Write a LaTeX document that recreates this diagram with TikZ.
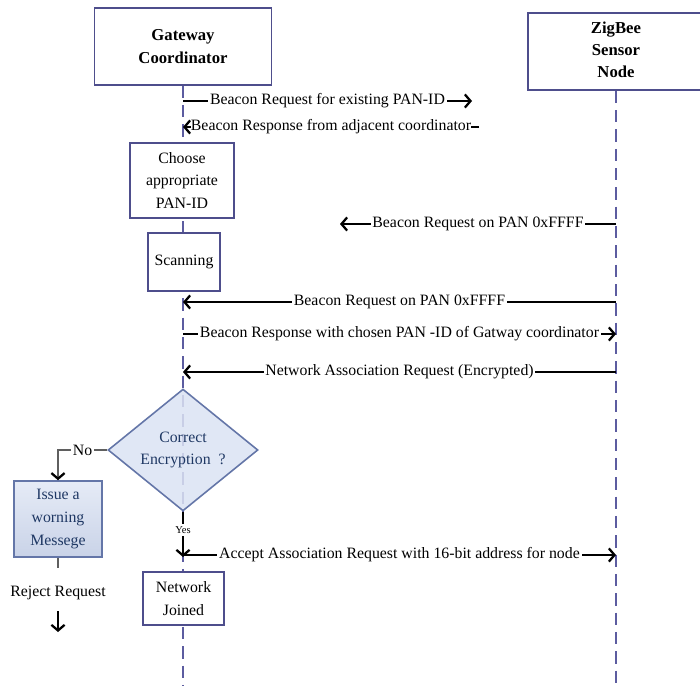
\documentclass[tikz,border=0pt]{standalone}
\usepackage{fontspec}
\setmainfont{Liberation Serif}
\usetikzlibrary{arrows.meta,shapes.geometric,backgrounds}
\definecolor{boxline}{RGB}{78,78,140}
\definecolor{lifeline}{RGB}{92,92,160}
\definecolor{diafill}{RGB}{219,227,243}
\definecolor{diaborder}{RGB}{100,118,168}
\definecolor{diatext}{RGB}{31,56,100}
\definecolor{flowgray}{RGB}{95,95,95}

\begin{document}
\begin{tikzpicture}[x=0.02cm,y=-0.02cm,
  font=\fontsize{9}{13}\selectfont,
  box/.style={draw=boxline,line width=0.9pt,fill=white,align=center,inner sep=1pt},
  life/.style={draw=lifeline,line width=0.8pt,dash pattern=on 7pt off 4pt},
  tip/.tip={Straight Barb[length=3.2pt,width=7.5pt,line width=1.3pt,color=black]},
  msg/.style={line width=0.6pt,-tip},
  lbl/.style={fill=white,inner xsep=1pt,inner ysep=1.5pt},
  flow/.style={draw=flowgray,line width=0.9pt}]
\useasboundingbox (0,0) rectangle (700,686);

% the two partners
\node[box,font=\fontsize{9.5}{13.5}\selectfont\bfseries,minimum width=3.54cm,minimum height=1.54cm] (gw) at (183,46.5) {Gateway\\Coordinator};
\node[box,font=\fontsize{9.5}{12.5}\selectfont\bfseries,minimum width=3.52cm,minimum height=1.54cm] (zb) at (616,51.5)
  {\raisebox{-0.14cm}{\begin{tabular}{@{}c@{}}ZigBee\\Sensor\\Node\end{tabular}}};
\coordinate (gwend) at (183,686);
\coordinate (zbend) at (616,686);
\begin{pgfonlayer}{background}
\draw[life] (gw.south) -- (gwend);
\draw[life] (zb.south) -- (zbend);
\end{pgfonlayer}

% steps of the gateway
\node[box,minimum width=2.08cm,minimum height=1.5cm] (choose) at (182,180.5) {Choose\\appropriate\\PAN-ID};
\node[box,minimum width=1.44cm,minimum height=1.16cm] (scan) at (184,262) {Scanning};
\node[diamond,draw=diaborder,line width=0.9pt,fill=diafill,fill opacity=0.85,text opacity=1,text=diatext,
  align=center,inner sep=0pt,minimum width=3cm,minimum height=2.3cm] (enc) at (183,450) {Correct\\Encryption\ \ ?};
\node[draw=diaborder,line width=0.9pt,top color=diafill!70!white,bottom color=diafill!85!diaborder,text=diatext,
  align=center,inner sep=1pt,minimum width=1.76cm,minimum height=1.52cm] (issue) at (58,519) {Issue a\\worning\\Messege};
\node[box,minimum width=1.62cm,minimum height=1.06cm] (joined) at (183.5,598.5) {Network\\Joined};

% messages
\coordinate (g1) at (183,101); \coordinate (e1) at (472,101);
\draw[msg] (g1) -- node[lbl]{Beacon Request for existing PAN-ID} (e1);
\coordinate (g2) at (183,127); \coordinate (e2) at (479,127);
\draw[msg] (e2) -- node[lbl,inner xsep=0pt]{Beacon Response from adjacent coordinator} (g2);
\coordinate (z3) at (616,224); \coordinate (e3) at (340,224);
\draw[msg] (z3) -- node[lbl]{Beacon Request on PAN 0xFFFF} (e3);
\coordinate (z4) at (616,302); \coordinate (g4) at (183,302);
\draw[msg] (z4) -- node[lbl]{Beacon Request on PAN 0xFFFF} (g4);
\coordinate (g5) at (183,334); \coordinate (z5) at (616,334);
\draw[msg] (g5) -- node[lbl]{Beacon Response with chosen PAN -ID of Gatway coordinator} (z5);
\coordinate (z6) at (616,372); \coordinate (g6) at (183,372);
\draw[msg] (z6) -- node[lbl]{Network Association Request (Encrypted)} (g6);
\coordinate (g7) at (183,555); \coordinate (z7) at (616,555);
\draw[msg] (g7) -- node[lbl]{Accept Association Request with 16-bit address for node} (z7);

% decision
\coordinate (yestip) at (183,557);
\draw[msg] (enc.south) -- node[lbl,pos=0.4,font=\fontsize{6}{7}\selectfont]{Yes} (yestip);
\coordinate (nocorner) at (58,450);
\draw[flow,-tip] (enc.west) -- node[lbl]{No} (nocorner) -- (issue.north);
\coordinate (rj1) at (58,568);
\draw[flow] (issue.south) -- (rj1);
\node (reject) at (58,593) {Reject Request};
\coordinate (rj2) at (58,632);
\draw[msg,shorten <=3pt] (reject.south) -- (rj2);
\end{tikzpicture}
\end{document}
